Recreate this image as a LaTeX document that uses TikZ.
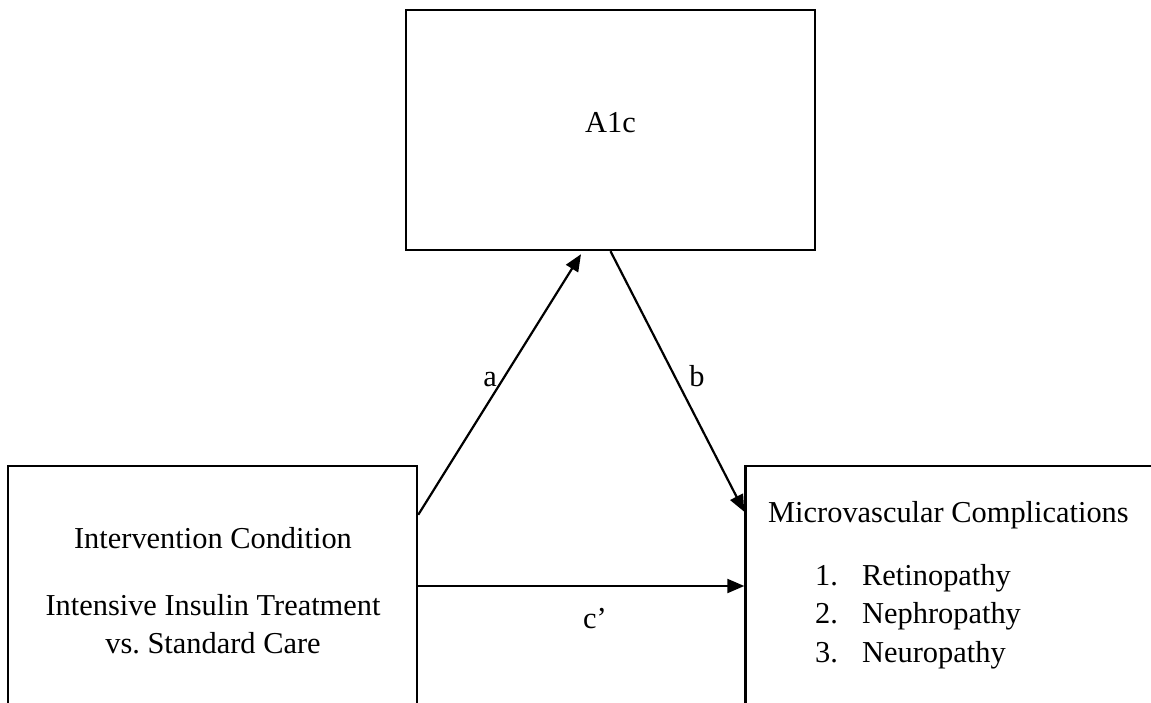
\documentclass[tikz,border=0pt]{standalone}
\usepackage{fontspec}
\setmainfont{Liberation Serif}
\usetikzlibrary{arrows.meta}
\frenchspacing
\tikzstyle{varbox}=[draw,line width=2.4pt,minimum width=409pt,minimum height=240pt,inner sep=0pt]
\tikzstyle{txt}=[anchor=base,inner sep=0pt,font=\fontsize{30.4pt}{38pt}\selectfont]
\tikzstyle{med}=[line width=2.2pt,-{Triangle[length=17pt,width=14pt]}]
\begin{document}
\begin{tikzpicture}[x=1pt,y=-1pt]
	\clip (0,0) rectangle (1151,702);
	\node[varbox] (aic)   at (610.5,130) {};
	\node[varbox] (cond)  at (212.5,586) {};
	\node[varbox] (micro) at (950,586) {};
	\node[txt] (aictxt) at (610.5,132) {A1c};
	\node[txt] (cond1) at (213,548) {Intervention Condition};
	\node[txt] (cond2) at (213,615) {Intensive Insulin Treatment};
	\node[txt] (cond3) at (213,653) {vs. Standard Care};
	\node[txt,anchor=base west] (micro0) at (768,522) {Microvascular Complications};
	\foreach \w/\y [count=\i] in {Retinopathy/585,Nephropathy/623.5,Neuropathy/662} {
		\node[txt,anchor=base west] (num\i)  at (815,\y) {\i.};
		\node[txt,anchor=base west] (item\i) at (862,\y) {\w};
	}
	% paths
	\draw[med] ([yshift=-50pt]cond.north east) -- ([xshift=-29.5pt,yshift=-3pt]aic.south);
	\draw[med] (aic.south) -- ([yshift=-47pt]micro.north west);
	\draw[med] (cond.east) -- (micro.west);
	\node[txt] (la) at (490,386) {a};
	\node[txt] (lb) at (697,386) {b};
	\node[txt] (lc) at (595,628) {c'};
\end{tikzpicture}
\end{document}
